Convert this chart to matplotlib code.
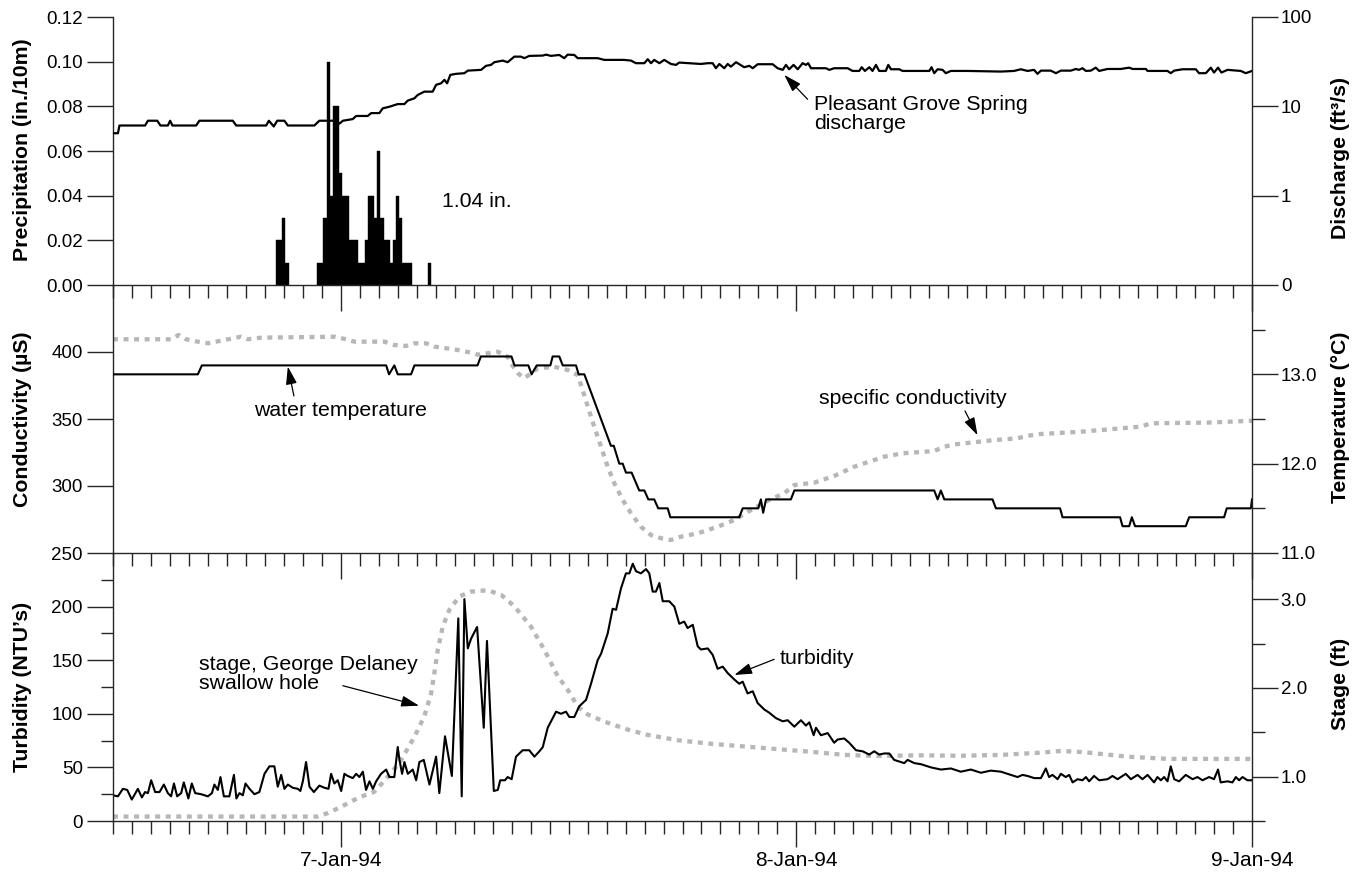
import numpy as np
import matplotlib
matplotlib.use("Agg")
import matplotlib.pyplot as plt
from matplotlib.ticker import FixedLocator, FixedFormatter, MultipleLocator, NullLocator

plt.rcParams['font.family'] = ['Liberation Sans', 'DejaVu Sans']

# ---------------- data (time in hours relative to 7-Jan-94 00:00) ----------------
# 10-minute rainfall, bar centres in minutes from 7-Jan-94 00:00
rain_min = [-200, -190, -180, -170,
            -70, -60, -50, -40, -30, -20, -10, 0, 10, 20,
            30, 40, 50, 60, 70, 80, 90, 100, 110, 120,
            130, 140, 150, 160, 170, 180, 190, 200, 210, 220,
            280]
rain_in = [0.02, 0.02, 0.03, 0.01,
           0.01, 0.01, 0.03, 0.10, 0.04, 0.08, 0.08, 0.05, 0.04, 0.04,
           0.02, 0.02, 0.02, 0.01, 0.01, 0.02, 0.04, 0.04, 0.03, 0.06,
           0.03, 0.02, 0.02, 0.01, 0.02, 0.04, 0.03, 0.01, 0.01, 0.01,
           0.01]

# Pleasant Grove Spring discharge, ft3/s
dis_hr = [-12.0, -11.74, -11.66, -10.31, -10.16, -9.67, -9.50, -9.11, -8.99, -8.87,
          -7.62, -7.45, -5.69, -5.51, -3.93, -3.79, -3.53, -3.35, -2.97, -2.79,
          -1.39, -1.13, -0.25, -0.07, 0.11, 0.63, 0.81, 1.42, 1.60, 2.03,
          2.21, 2.56, 3.00, 3.35, 3.53, 3.88, 4.05, 4.40, 4.84, 5.02,
          5.28, 5.46, 5.60, 5.77, 6.07, 6.51, 6.69, 7.39, 7.65, 7.91,
          8.09, 8.53, 8.79, 9.14, 9.49, 9.67, 9.93, 10.64, 10.81, 11.07,
          11.51, 11.77, 11.95, 12.30, 12.48, 13.53, 13.88, 14.93, 15.29, 15.55,
          15.99, 16.17, 16.34, 16.51, 16.78, 17.04, 17.39, 17.66, 17.83, 18.97,
          19.33, 19.59, 19.76, 19.94, 20.20, 20.38, 20.55, 20.82, 21.25, 21.52,
          21.70, 21.96, 22.75, 23.01, 23.28, 23.45, 23.62, 23.85, 24.07, 24.33,
          24.50, 24.62, 24.77, 25.56, 25.73, 25.99, 26.70, 26.96, 27.31, 27.44,
          27.61, 27.84, 28.01, 28.19, 28.36, 28.71, 28.84, 28.98, 29.42, 29.59,
          31.00, 31.12, 31.26, 31.44, 31.70, 31.87, 32.14, 33.02, 34.77, 35.47,
          35.82, 36.18, 36.52, 36.70, 36.88, 37.40, 37.67, 37.93, 38.46, 38.72,
          38.89, 39.07, 39.25, 39.51, 39.77, 39.95, 40.39, 41.09, 41.53, 41.71,
          42.41, 42.50, 43.55, 43.72, 43.90, 44.34, 45.04, 45.21, 45.57, 45.83,
          46.00, 46.21, 46.39, 46.71, 47.41, 47.67, 48.0]
dis_cfs = [5.0, 5.0, 6.1, 6.1, 6.9, 6.9, 6.1, 6.1, 6.9, 6.1,
           6.1, 6.9, 6.9, 6.1, 6.1, 6.9, 5.95, 6.9, 6.9, 6.1,
           6.1, 6.9, 6.9, 6.4, 6.9, 7.2, 7.8, 7.8, 8.4, 8.4,
           9.5, 9.9, 10.6, 10.6, 11.6, 12.3, 13.4, 14.6, 14.6, 17.4,
           18.1, 19.8, 18.1, 22.5, 23.1, 23.5, 25.1, 25.6, 28.4, 29.1,
           31.2, 32.5, 31.2, 36.0, 36.0, 34.6, 36.7, 37.0, 37.9, 36.7,
           37.6, 34.6, 37.9, 37.6, 34.6, 34.6, 33.1, 33.1, 32.5, 30.4,
           30.4, 33.7, 30.4, 33.1, 30.4, 33.1, 29.8, 29.1, 30.9, 29.8,
           30.4, 30.4, 26.7, 29.8, 26.7, 29.8, 27.8, 31.2, 27.4, 28.4,
           26.7, 29.6, 29.6, 26.7, 25.6, 29.1, 26.0, 29.1, 26.0, 30.4,
           29.1, 30.4, 26.7, 26.7, 25.6, 26.7, 26.7, 24.9, 24.9, 27.4,
           24.9, 27.4, 24.9, 29.1, 24.9, 24.9, 29.1, 26.0, 26.0, 24.9,
           24.9, 27.4, 23.5, 26.0, 25.6, 23.5, 24.9, 24.9, 24.5, 24.9,
           26.0, 24.9, 25.6, 23.1, 25.1, 25.1, 23.5, 25.1, 25.1, 26.2,
           25.6, 26.7, 24.9, 25.1, 27.1, 24.9, 26.2, 26.2, 27.1, 26.2,
           26.2, 24.9, 24.9, 23.5, 25.1, 26.0, 26.0, 23.5, 23.5, 27.1,
           23.9, 27.1, 23.9, 25.6, 24.9, 23.5, 24.9]

# Specific conductivity, microsiemens
cond_hr = [-12.0, -8.94, -8.55, -8.15, -7.53, -7.00, -6.57, -6.13, -5.25, -4.90,
           -4.20, -0.34, 0.28, 0.72, 2.30, 2.82, 3.44, 3.88, 4.49, 4.93,
           5.55, 6.16, 7.04, 7.21, 8.27, 8.79, 8.96, 9.34, 9.67, 10.37,
           11.25, 11.95, 12.48, 12.74, 13.01, 13.35, 13.71, 14.06, 14.41, 14.85,
           15.29, 15.81, 16.34, 16.87, 17.39, 17.92, 18.80, 19.85, 20.73, 21.61,
           22.57, 23.36, 23.89, 24.94, 25.99, 27.05, 27.57, 28.63, 29.59, 31.26,
           31.78, 32.31, 34.42, 35.65, 36.18, 36.88, 38.98, 42.14, 42.67, 45.66, 48.0]
cond_us = [409.5, 409.5, 412.7, 409.5, 407.7, 406.5, 407.7, 409.0, 411.4, 409.5,
           410.7, 411.4, 409.5, 407.7, 407.7, 405.2, 404.5, 406.5, 406.5, 404.0,
           402.8, 401.5, 399.0, 398.0, 400.2, 396.5, 391.6, 384.0, 380.4, 387.8,
           389.0, 386.6, 382.8, 371.6, 359.2, 344.3, 329.3, 314.4, 302.0, 289.6,
           279.6, 269.6, 263.4, 261.0, 259.7, 262.2, 264.7, 269.6, 274.6, 282.1,
           289.6, 294.6, 300.7, 302.5, 307.5, 314.4, 316.9, 321.9, 324.4, 326.1,
           329.3, 331.0, 334.3, 335.6, 337.5, 338.8, 340.5, 344.3, 346.8, 347.3, 348.7]

# Water temperature, degrees C
temp_hr = [-12.0, -7.53, -7.32, 2.39, 2.54, 2.82, 3.00, 3.70, 3.88, 7.20,
           7.38, 8.99, 9.15, 9.88, 10.05, 10.32, 11.04, 11.16, 11.51, 11.69,
           12.39, 12.53, 12.83, 14.23, 14.38, 14.67, 14.85, 15.02, 15.32, 15.72,
           15.99, 16.20, 16.51, 16.72, 17.22, 17.36, 20.99, 21.17, 21.99, 22.13,
           22.25, 22.40, 23.71, 23.89, 31.26, 31.44, 31.61, 31.79, 34.33, 34.51,
           37.89, 38.02, 41.05, 41.18, 41.53, 41.67, 41.84, 44.51, 44.69, 46.53,
           46.67, 47.94, 48.0]
temp_c = [13.0, 13.0, 13.1, 13.1, 13.0, 13.1, 13.0, 13.0, 13.1, 13.1,
          13.2, 13.2, 13.1, 13.1, 13.0, 13.1, 13.1, 13.2, 13.2, 13.1,
          13.1, 13.0, 13.0, 12.2, 12.2, 12.0, 12.0, 11.9, 11.9, 11.7,
          11.7, 11.6, 11.6, 11.5, 11.5, 11.4, 11.4, 11.5, 11.5, 11.6,
          11.45, 11.6, 11.6, 11.7, 11.7, 11.6, 11.7, 11.6, 11.6, 11.5,
          11.5, 11.4, 11.4, 11.3, 11.3, 11.4, 11.3, 11.3, 11.4, 11.4,
          11.5, 11.5, 11.6]

# Turbidity, NTU
turb_hr = [-12.0, -11.74, -11.48, -11.25, -11.01, -10.69, -10.48, -10.31, -10.16, -9.99,
           -9.78, -9.55, -9.32, -9.11, -8.94, -8.79, -8.62, -8.41, -8.27, -8.03,
           -7.85, -7.67, -7.36, -7.00, -6.79, -6.66, -6.48, -6.34, -6.16, -5.87,
           -5.63, -5.50, -5.34, -5.16, -5.02, -4.81, -4.55, -4.29, -4.02, -3.76,
           -3.50, -3.32, -3.14, -2.97, -2.79, -2.53, -2.26, -2.13, -2.00, -1.83,
           -1.65, -1.42, -1.13, -0.86, -0.65, -0.51, -0.34, -0.16, 0.02, 0.19,
           0.37, 0.63, 0.81, 0.98, 1.16, 1.33, 1.51, 1.69, 1.86, 2.12,
           2.39, 2.56, 2.82, 3.00, 3.09, 3.23, 3.35, 3.53, 3.79, 3.97,
           4.14, 4.37, 4.67, 5.02, 5.19, 5.49, 5.85, 6.19, 6.37, 6.51,
           6.69, 6.86, 7.18, 7.53, 7.70, 8.06, 8.27, 8.40, 8.65, 8.79,
           9.00, 9.23, 9.58, 9.93, 10.20, 10.46, 10.64, 10.90, 11.34, 11.60,
           11.86, 12.04, 12.30, 12.56, 12.92, 13.18, 13.53, 13.71, 14.06, 14.32,
           14.50, 14.76, 15.02, 15.20, 15.38, 15.55, 15.81, 16.08, 16.25, 16.43,
           16.60, 16.78, 16.96, 17.30, 17.57, 17.83, 18.09, 18.27, 18.54, 18.80,
           18.97, 19.33, 19.59, 19.85, 20.12, 20.38, 20.73, 20.99, 21.17, 21.43,
           21.70, 21.96, 22.31, 22.57, 22.92, 23.28, 23.54, 23.89, 24.24, 24.50,
           24.68, 24.91, 25.03, 25.29, 25.65, 25.99, 26.17, 26.52, 26.78, 27.14,
           27.49, 27.84, 28.10, 28.36, 28.63, 28.89, 29.15, 29.68, 29.86, 30.21,
           30.56, 31.09, 31.61, 32.14, 32.66, 33.19, 33.72, 34.24, 34.77, 35.30,
           35.65, 35.91, 36.18, 36.53, 36.88, 37.14, 37.31, 37.49, 37.76, 37.93,
           38.19, 38.37, 38.55, 38.81, 39.07, 39.25, 39.42, 39.68, 39.95, 40.39,
           40.65, 40.92, 41.35, 41.62, 41.97, 42.23, 42.50, 42.84, 43.02, 43.20,
           43.37, 43.55, 43.72, 43.90, 44.16, 44.51, 44.87, 45.13, 45.39, 45.74,
           46.00, 46.21, 46.35, 46.71, 46.97, 47.15, 47.32, 47.50, 47.76, 48.0]
turb_ntu = [24, 23, 30, 29, 20, 30, 22, 27, 26, 38,
            27, 27, 34, 26, 23, 35, 23, 26, 36, 21,
            35, 26, 25, 23, 26, 34, 29, 41, 23, 23,
            43, 21, 26, 24, 35, 30, 25, 27, 44, 51,
            51, 32, 43, 30, 34, 31, 30, 28, 37, 55,
            32, 27, 33, 31, 30, 44, 35, 38, 28, 44,
            42, 40, 44, 41, 46, 29, 37, 30, 37, 44,
            48, 41, 41, 69, 57, 44, 55, 44, 48, 38,
            55, 57, 34, 60, 26, 79, 42, 189, 23, 207,
            161, 170, 181, 87, 168, 28, 29, 38, 38, 41,
            39, 60, 66, 66, 60, 65, 69, 87, 102, 100,
            102, 97, 97, 107, 113, 128, 150, 156, 175, 198,
            197, 217, 231, 231, 240, 233, 231, 235, 231, 214,
            214, 222, 205, 205, 200, 184, 186, 180, 183, 163,
            160, 161, 155, 142, 144, 138, 132, 128, 130, 119,
            121, 110, 104, 101, 96, 93, 94, 88, 94, 89,
            92, 80, 87, 80, 82, 73, 76, 77, 73, 66,
            65, 62, 65, 62, 63, 63, 57, 54, 57, 54,
            53, 50, 48, 49, 46, 48, 45, 47, 46, 43,
            41, 43, 42, 40, 40, 49, 41, 43, 39, 44,
            41, 43, 36, 39, 38, 41, 37, 42, 38, 39,
            42, 39, 44, 39, 43, 39, 43, 36, 41, 38,
            41, 37, 51, 39, 37, 43, 39, 41, 38, 41,
            39, 48, 36, 37, 36, 41, 38, 41, 38, 38]

# Stage at George Delaney swallow hole, ft
stage_hr = [-12.0, -1.21, -0.68, 0.02, 0.90, 1.77, 2.65, 3.18, 3.88, 4.40,
            4.76, 4.93, 5.11, 5.37, 5.72, 6.25, 6.86, 7.74, 8.44, 9.14,
            10.02, 10.72, 11.43, 11.95, 12.48, 13.01, 13.88, 15.11, 16.17, 17.75,
            19.50, 21.25, 23.01, 24.77, 26.52, 28.28, 30.56, 32.66, 34.77, 36.88,
            37.93, 39.16, 41.44, 43.55, 48.0]
stage_ft = [0.55, 0.55, 0.59, 0.66, 0.76, 0.83, 1.04, 1.19, 1.45, 1.68,
            1.94, 2.17, 2.43, 2.69, 2.88, 3.03, 3.085, 3.10, 3.05, 2.92,
            2.69, 2.43, 2.13, 1.98, 1.79, 1.70, 1.62, 1.53, 1.47, 1.41,
            1.37, 1.34, 1.31, 1.28, 1.245, 1.233, 1.24, 1.235, 1.245, 1.27,
            1.29, 1.275, 1.225, 1.20, 1.20]

day_ticks = [0, 24, 48]
day_labels = ['7-Jan-94', '8-Jan-94', '9-Jan-94']

# ---------------- styling ----------------
INK = '#262626'
GREY = '#b7b7b7'
TICK_FS = 13.5
LABEL_FS = 15.3
NOTE_FS = 15.3
MAJ_LEN, MIN_LEN = 18.7, 9.0

fig = plt.figure(figsize=(13.64, 8.75), dpi=100)
fig.patch.set_facecolor('white')
L = 113 / 1364
W = (1252 - 113) / 1364
H = 268 / 875
ax_p = fig.add_axes([L, 1 - 285 / 875, W, H])
ax_c = fig.add_axes([L, 1 - 553 / 875, W, H])
ax_n = fig.add_axes([L, 1 - 821 / 875, W, H])
ax_q = ax_p.twinx()
ax_t = ax_c.twinx()
ax_s = ax_n.twinx()

for ax in (ax_p, ax_c, ax_n):
    ax.patch.set_visible(False)
    ax.set_xlim(-12, 48)
    for side in ('top', 'right'):
        ax.spines[side].set_visible(False)
    for side in ('left', 'bottom'):
        ax.spines[side].set_color(INK)
        ax.spines[side].set_linewidth(1.0)
    ax.xaxis.set_major_locator(FixedLocator(day_ticks))
    ax.xaxis.set_minor_locator(MultipleLocator(1))
    ax.tick_params(axis='x', which='major', direction='out', length=MAJ_LEN,
                   width=1.0, color=INK, labelsize=15, pad=3)
    ax.tick_params(axis='x', which='minor', direction='out', length=MIN_LEN,
                   width=1.0, color=INK)
    ax.tick_params(axis='y', which='major', direction='out', length=MAJ_LEN,
                   width=1.0, color=INK, labelsize=TICK_FS, pad=3)
    ax.tick_params(axis='y', which='minor', direction='out', length=MIN_LEN,
                   width=1.0, color=INK)

for ax in (ax_q, ax_t, ax_s):
    ax.patch.set_visible(False)
    for side in ('top', 'left', 'bottom'):
        ax.spines[side].set_visible(False)
    ax.spines['right'].set_color(INK)
    ax.spines['right'].set_linewidth(1.0)
    ax.tick_params(axis='y', which='major', direction='out', length=MAJ_LEN,
                   width=1.0, color=INK, labelsize=TICK_FS, pad=2)
    ax.tick_params(axis='y', which='minor', direction='out', length=MIN_LEN,
                   width=1.0, color=INK)

ax_p.tick_params(axis='x', labelbottom=False)
ax_c.tick_params(axis='x', labelbottom=False)
ax_n.xaxis.set_major_formatter(FixedFormatter(day_labels))

# ---- panel 1: rainfall bars + spring discharge ----
ax_p.bar(np.array(rain_min) / 60.0, rain_in, width=1 / 6, align='center',
         color='black', edgecolor='black', linewidth=0.3)
ax_p.set_ylim(0, 0.12)
ax_p.yaxis.set_major_locator(FixedLocator(np.arange(0, 0.121, 0.02)))
ax_p.yaxis.set_major_formatter(FixedFormatter(['0.00', '0.02', '0.04', '0.06',
                                               '0.08', '0.10', '0.12']))

ax_q.set_yscale('log')
ax_q.plot(dis_hr, dis_cfs, color='black', lw=1.6)
ax_q.set_ylim(0.1, 100)
ax_q.yaxis.set_major_locator(FixedLocator([0.1, 1, 10, 100]))
ax_q.yaxis.set_major_formatter(FixedFormatter(['0', '1', '10', '100']))
ax_q.yaxis.set_minor_locator(NullLocator())

ax_p.text(5.32, 0.0373, '1.04 in.', fontsize=NOTE_FS, ha='left', va='center')

ARROW = dict(arrowstyle='-|>,head_length=0.9,head_width=0.28', color='black',
             lw=0.9, shrinkA=0, shrinkB=0, mutation_scale=12)

ax_q.annotate('', xy=(23.36, 22.5), xytext=(24.59, 12.0), arrowprops=ARROW)
ax_q.text(24.91, 8.2, 'Pleasant Grove Spring\ndischarge', fontsize=NOTE_FS,
          ha='left', va='center', linespacing=1.0)

# ---- panel 2: conductivity + water temperature ----
ax_c.plot(cond_hr, cond_us, color=GREY, lw=3.1, dashes=(1.15, 1.3),
          dash_capstyle='butt')
ax_c.set_ylim(250, 450)
ax_c.yaxis.set_major_locator(FixedLocator([300, 350, 400]))

ax_t.plot(temp_hr, temp_c, color='black', lw=1.5)
ax_t.set_ylim(11, 14)
ax_t.yaxis.set_major_locator(FixedLocator([11, 12, 13]))
ax_t.yaxis.set_major_formatter(FixedFormatter(['11.0', '12.0', '13.0']))
ax_t.yaxis.set_minor_locator(FixedLocator([11.5, 12.5, 13.5]))

ax_t.annotate('', xy=(-2.79, 13.086), xytext=(-2.47, 12.758), arrowprops=ARROW)
ax_t.text(0.0, 12.59, 'water temperature', fontsize=NOTE_FS, ha='center', va='center')
ax_c.annotate('', xy=(33.54, 337.9), xytext=(32.88, 356.0), arrowprops=ARROW)
ax_c.text(25.2, 365.5, 'specific conductivity', fontsize=NOTE_FS, ha='left', va='center')

# ---- panel 3: turbidity + stage ----
ax_s.plot(stage_hr, stage_ft, color=GREY, lw=3.1, dashes=(1.15, 1.3),
          dash_capstyle='butt')
ax_s.set_ylim(0.5, 3.52)
ax_s.yaxis.set_major_locator(FixedLocator([1, 2, 3]))
ax_s.yaxis.set_major_formatter(FixedFormatter(['1.0', '2.0', '3.0']))
ax_s.yaxis.set_minor_locator(FixedLocator([0.5, 1.5, 2.5]))

ax_n.set_zorder(ax_s.get_zorder() + 1)
ax_n.plot(turb_hr, turb_ntu, color='black', lw=1.5)
ax_n.set_ylim(0, 250)
ax_n.yaxis.set_major_locator(FixedLocator([0, 50, 100, 150, 200, 250]))
ax_n.yaxis.set_minor_locator(FixedLocator([25, 75, 125, 175, 225]))

ax_n.annotate('', xy=(20.73, 136.2), xytext=(22.83, 150.8), arrowprops=ARROW)
ax_n.text(23.13, 151.8, 'turbidity', fontsize=NOTE_FS, ha='left', va='center')
ax_n.annotate('', xy=(4.12, 107.6), xytext=(0.105, 126.2), arrowprops=ARROW)
ax_n.text(-7.48, 137.1, 'stage, George Delaney\nswallow hole', fontsize=NOTE_FS,
          ha='left', va='center', linespacing=1.0)

# ---- axis titles ----
def side_label(x_px, y_px, text):
    fig.text(x_px / 1364, 1 - y_px / 875, text, rotation=90, ha='center', va='center',
             fontsize=LABEL_FS, fontweight='bold')

side_label(23, 150, 'Precipitation (in./10m)')
side_label(23, 419, 'Conductivity (µS)')
side_label(23, 687, 'Turbidity (NTU’s)')
side_label(1340, 158, 'Discharge (ft³/s)')
side_label(1341, 417, 'Temperature (°C)')
side_label(1341, 684, 'Stage (ft)')

fig.savefig('out.png', dpi=100, facecolor='white')
